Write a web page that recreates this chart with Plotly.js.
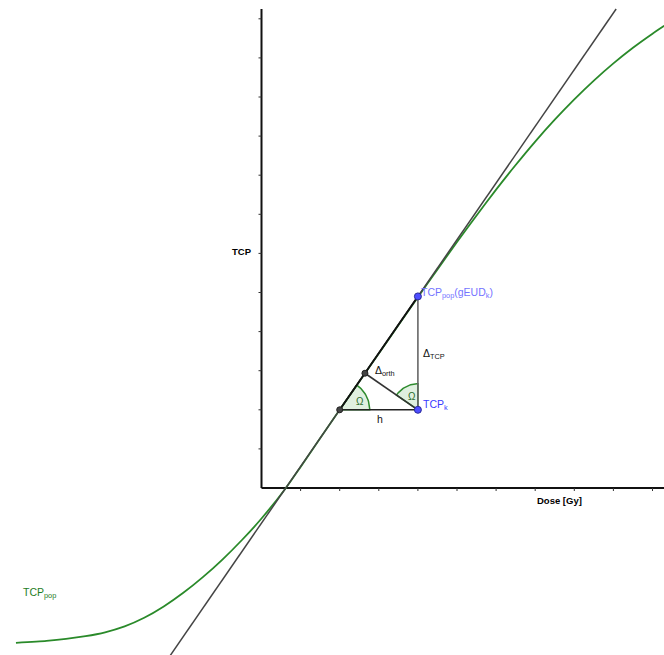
<!DOCTYPE html>
<html>
<head>
<meta charset="utf-8">
<script src="https://cdn.plot.ly/plotly-3.0.1.min.js"></script>
<style>html,body{margin:0;padding:0;background:#fff;}#chart{width:664px;height:655px;}</style>
</head>
<body>
<div id="chart"></div>
<script>
// ---- data ----
const curveX = [-6.28, -5.5, -5.0, -4.5, -4.0, -3.5, -3.0, -2.5, -2.0, -1.5, -1.0, -0.5, 0.0, 0.6, 1.0, 1.5, 2.0, 2.5, 3.0, 3.5, 4.0, 4.5, 5.0, 5.5, 6.0, 6.5, 7.0, 7.5, 8.0, 8.5, 9.0, 9.5, 10.0, 10.3];
const curveY = [-3.96, -3.91, -3.86, -3.79, -3.69, -3.54, -3.32, -3.03, -2.68, -2.28, -1.83, -1.33, -0.78, -0.03, 0.54, 1.27, 2.0, 2.72, 3.44, 4.16, 4.88, 5.59, 6.29, 6.97, 7.63, 8.26, 8.86, 9.42, 9.94, 10.42, 10.86, 11.26, 11.62, 11.82];
const tangentX = [-2.38, 9.07];
const tangentY = [-4.35, 12.25];
const pointA = [2.0, 2.0];          // tangent start point
const pointD = [2.645, 2.935];      // foot of perpendicular (Delta_orth)
const pointTCPk = [4.0, 2.0];       // TCP_k
const pointTCPpop = [4.0, 4.9];     // TCP_pop(gEUD_k)
const xTicks = [1, 2, 3, 4, 5, 6, 7, 8, 9, 10];
const yTicks = [1, 2, 3, 4, 5, 6, 7, 8, 9, 10, 11, 12];
const xAxisEnd = 10.3;
const yAxisEnd = 12.25;

// ---- view ----
const PX = 39.1;
const xRange = [-261.5 / PX, (664 - 261.5) / PX];
const yRange = [-(655 - 488) / PX, 488 / PX];
const tickLen = 3 / PX;
const FONT = 'Liberation Sans, Arial, sans-serif';

function arcTrace(center, r, a0, a1) {
  const xs = [center[0]], ys = [center[1]];
  const n = 24;
  for (let i = 0; i <= n; i++) {
    const a = (a0 + (a1 - a0) * i / n) * Math.PI / 180;
    xs.push(center[0] + r * Math.cos(a));
    ys.push(center[1] + r * Math.sin(a));
  }
  xs.push(center[0]); ys.push(center[1]);
  return {x: xs, y: ys, mode: 'lines', fill: 'toself', fillcolor: 'rgba(0,128,0,0.12)',
          line: {color: '#2e8b2e', width: 1.5}, hoverinfo: 'skip', showlegend: false};
}

const slopeAng = Math.atan2(pointTCPpop[1] - pointA[1], pointTCPpop[0] - pointA[0]) * 180 / Math.PI;

const xtx = [], xty = [];
xTicks.forEach(t => { xtx.push(t, t, null); xty.push(0, -tickLen, null); });
const ytx = [], yty = [];
yTicks.forEach(t => { ytx.push(0, -tickLen, null); yty.push(t, t, null); });

const traces = [
  arcTrace(pointA, 30 / PX, 0, slopeAng),
  arcTrace(pointTCPk, 26 / PX, 90, 90 + slopeAng),
  {x: [0, 0], y: [0, yAxisEnd], mode: 'lines', line: {color: '#111', width: 2}, hoverinfo: 'skip'},
  {x: [0, xAxisEnd], y: [0, 0], mode: 'lines', line: {color: '#111', width: 2}, hoverinfo: 'skip'},
  {x: xtx, y: xty, mode: 'lines', line: {color: '#333', width: 1}, hoverinfo: 'skip'},
  {x: ytx, y: yty, mode: 'lines', line: {color: '#333', width: 1}, hoverinfo: 'skip'},
  {x: curveX, y: curveY, mode: 'lines', line: {color: '#2a8a2a', width: 1.8, shape: 'spline', smoothing: 0.6}, hoverinfo: 'skip'},
  {x: tangentX, y: tangentY, mode: 'lines', line: {color: '#444', width: 1.5}, hoverinfo: 'skip'},
  {x: [pointA[0], pointTCPpop[0]], y: [pointA[1], pointTCPpop[1]], mode: 'lines', line: {color: '#111', width: 1.8}, hoverinfo: 'skip'},
  {x: [pointA[0], pointTCPk[0]], y: [pointA[1], pointTCPk[1]], mode: 'lines', line: {color: '#222', width: 1.6}, hoverinfo: 'skip'},
  {x: [pointTCPk[0], pointTCPpop[0]], y: [pointTCPk[1], pointTCPpop[1]], mode: 'lines', line: {color: '#666', width: 1.6}, hoverinfo: 'skip'},
  {x: [pointTCPk[0], pointD[0]], y: [pointTCPk[1], pointD[1]], mode: 'lines', line: {color: '#333', width: 1.6}, hoverinfo: 'skip'},
  {x: [pointA[0], pointD[0]], y: [pointA[1], pointD[1]], mode: 'markers',
   marker: {size: 6, color: '#444', line: {color: '#222', width: 1}}, hoverinfo: 'skip'},
  {x: [pointTCPk[0], pointTCPpop[0]], y: [pointTCPk[1], pointTCPpop[1]], mode: 'markers',
   marker: {size: 7, color: '#4d4dff', line: {color: '#2a2a99', width: 1}}, hoverinfo: 'skip'}
];
traces.forEach(t => { t.showlegend = false; t.type = 'scatter'; });

function ann(text, x, y, color, size, opts) {
  return Object.assign({text: text, x: x, y: y, xref: 'x', yref: 'y', showarrow: false,
    xanchor: 'left', yanchor: 'middle', font: {family: FONT, size: size, color: color}}, opts || {});
}

const annotations = [
  ann('<b>TCP</b>', -0.5, 6.06, '#000', 9.5, {xanchor: 'center'}),
  ann('<b>Dose [Gy]</b>', 7.61, -0.31, '#000', 9.5, {xanchor: 'center'}),
  ann('TCP<sub>pop</sub>', (20.5 - 261.5) / PX, -2.68, '#1e7d1e', 10.5),
  ann('TCP<sub>pop</sub>(gEUD<sub>k</sub>)', (419 - 261.5) / PX, 4.98, '#7474ff', 10.5),
  ann('Δ<sub>TCP</sub>', (420.5 - 261.5) / PX, 3.42, '#111', 10.5),
  ann('Δ<sub>orth</sub>', (372.5 - 261.5) / PX, 3.0, '#111', 10.5),
  ann('TCP<sub>k</sub>', (420.5 - 261.5) / PX, 2.12, '#3a3aff', 10.5),
  ann('h', 3.02, 1.76, '#111', 10.5, {xanchor: 'center'}),
  ann('Ω', 2.52, 2.22, '#2a6a2a', 10, {xanchor: 'center'}),
  ann('Ω', 3.84, 2.35, '#2a6a2a', 10, {xanchor: 'center'})
];

const axisCommon = {visible: false, showgrid: false, zeroline: false, showticklabels: false, fixedrange: true};
const layout = {
  width: 664, height: 655,
  margin: {l: 0, r: 0, t: 0, b: 0, pad: 0},
  paper_bgcolor: '#fff', plot_bgcolor: '#fff',
  xaxis: Object.assign({range: xRange}, axisCommon),
  yaxis: Object.assign({range: yRange}, axisCommon),
  showlegend: false,
  annotations: annotations
};

Plotly.newPlot('chart', traces, layout, {displayModeBar: false, staticPlot: true});
</script>
</body>
</html>
